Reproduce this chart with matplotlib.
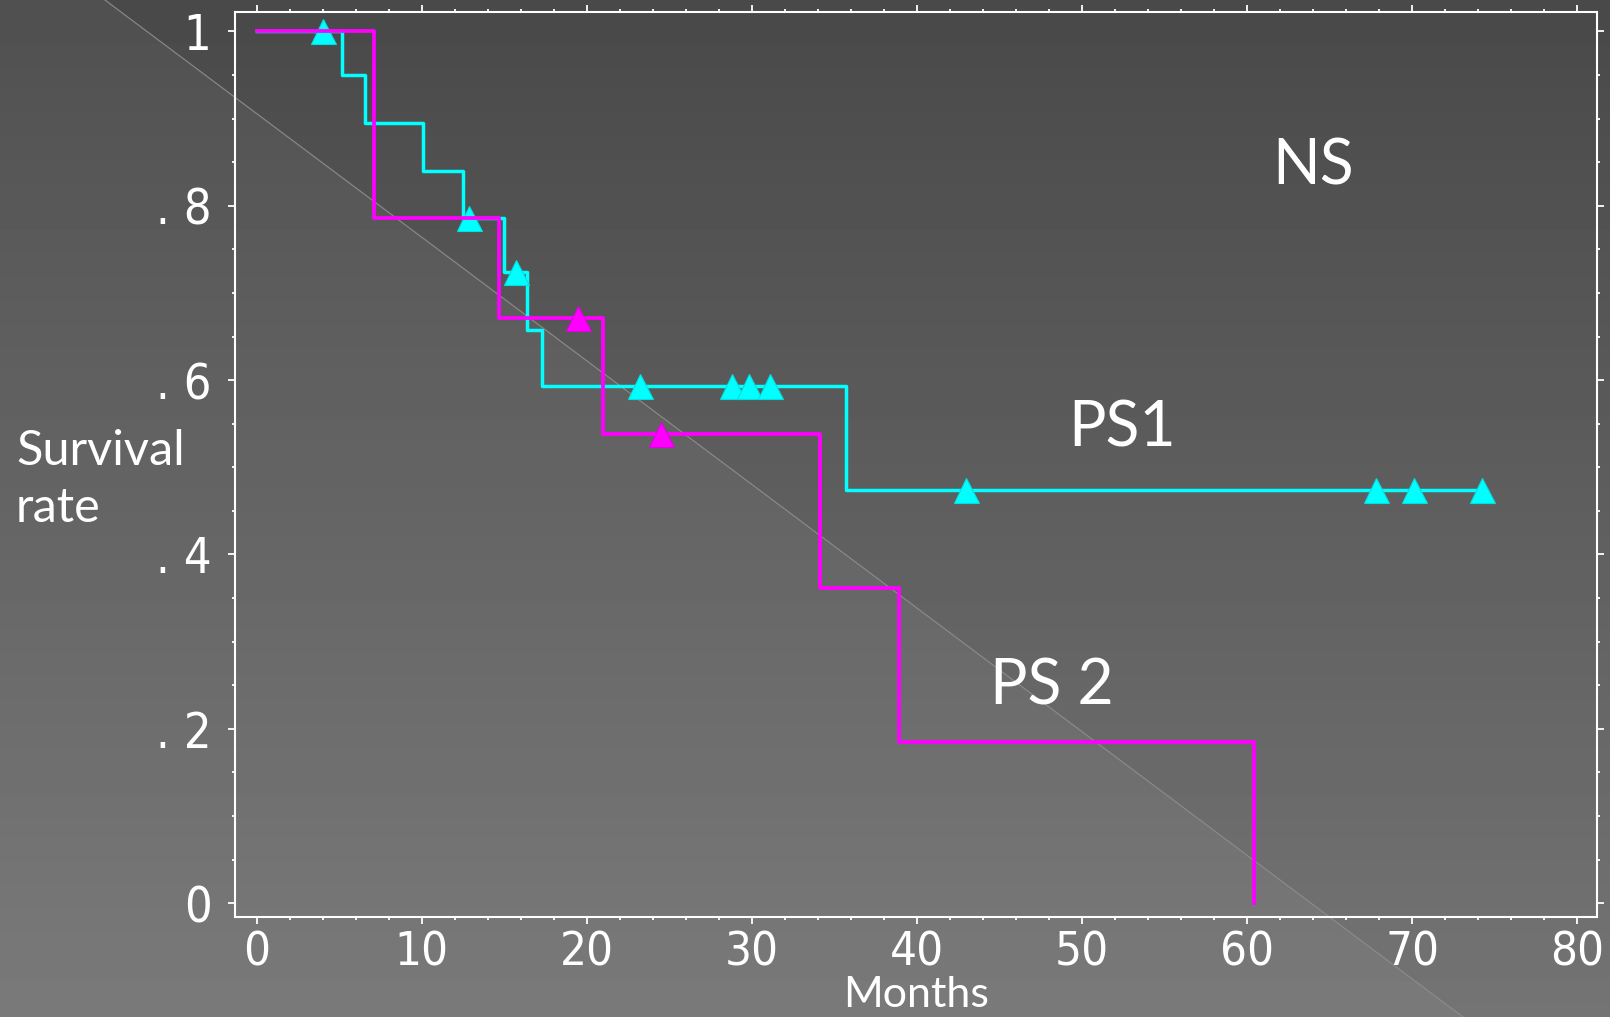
import matplotlib
matplotlib.use('Agg')
import matplotlib.pyplot as plt
from matplotlib.patches import Polygon
from matplotlib.ticker import MultipleLocator
import numpy as np

# Kaplan-Meier estimates (months, survival rate)
ps1_time = [0, 5.15, 6.6, 10.1, 12.5, 15.0, 16.4, 17.3, 35.7, 74.2]
ps1_surv = [1.0, 0.95, 0.895, 0.84, 0.786, 0.724, 0.657, 0.593, 0.474, 0.474]
ps1_cens_time = [4.0, 12.9, 15.7, 23.2, 28.8, 29.8, 31.1, 43.0, 67.8, 70.1, 74.2]
ps1_cens_surv = [1.0, 0.786, 0.724, 0.593, 0.593, 0.593, 0.593, 0.474, 0.474, 0.474, 0.474]

ps2_time = [0, 7.1, 14.7, 21.0, 34.1, 38.9, 60.4]
ps2_surv = [1.0, 0.786, 0.671, 0.538, 0.362, 0.185, 0.0]
ps2_cens_time = [19.5, 24.5]
ps2_cens_surv = [0.671, 0.538]

x_ticks = [0, 10, 20, 30, 40, 50, 60, 70, 80]
y_ticks = [0, 0.2, 0.4, 0.6, 0.8, 1.0]
y_ticklabels = ['0', '. 2', '. 4', '. 6', '. 8', '1']

label_font = ['Lato', 'DejaVu Sans']
tick_font = ['DejaVu Sans']

fig = plt.figure(figsize=(16.1, 10.17), dpi=100)

# slide background: dark-to-light vertical gradient, lighter lower-left triangle
bg = fig.add_axes([0, 0, 1, 1], zorder=-10)
grad = np.linspace(73, 116, 256)[:, None] / 255.0
bg.imshow(np.repeat(grad, 2, axis=1), cmap='gray', vmin=0, vmax=1,
          extent=[0, 1, 0, 1], aspect='auto', origin='upper')
tri = Polygon([[0, 1], [0.0652, 1], [0.9087, 0], [0, 0]], closed=True,
              fc='white', ec='none', alpha=0.045)
bg.add_patch(tri)
bg.plot([0.0652, 0.9087], [1, 0], color='#8c8c8c', lw=0.8)
bg.set_xlim(0, 1)
bg.set_ylim(0, 1)
bg.axis('off')

ax = fig.add_axes([0.146, 0.0983, 0.846, 0.8896])
ax.patch.set_alpha(0)

ax.step(ps1_time, ps1_surv, where='post', color='#00ffff', lw=2.5, zorder=2)
ax.plot(ps1_cens_time, ps1_cens_surv, '^', color='#00ffff', ms=18,
        mec='#00e0e0', mew=0.8, zorder=3)
ax.step(ps2_time, ps2_surv, where='post', color='#ff00ff', lw=2.7, zorder=4)
ax.plot(ps2_cens_time, ps2_cens_surv, '^', color='#ff00ff', ms=18,
        mec='#e000e0', mew=0.8, zorder=5)

ax.text(64.0, 0.824, 'NS', color='white', fontsize=45, ha='center',
        va='baseline', family=label_font)
ax.text(52.4, 0.524, 'PS1', color='white', fontsize=45, ha='center',
        va='baseline', family=label_font)
ax.text(48.15, 0.228, 'PS 2', color='white', fontsize=45, ha='center',
        va='baseline', family=label_font)

ax.set_xlim(-1.3, 81.2)
ax.set_ylim(-0.016, 1.022)
ax.set_xticks(x_ticks)
ax.set_yticks(y_ticks)
ax.set_yticklabels(y_ticklabels)
ax.xaxis.set_minor_locator(MultipleLocator(2))
ax.yaxis.set_minor_locator(MultipleLocator(0.05))
for s in ax.spines.values():
    s.set_color('white')
    s.set_linewidth(1.5)
ax.tick_params(which='both', direction='out', colors='white', width=1.3,
               top=True, right=True, labeltop=False, labelright=False)
ax.tick_params(which='major', length=5, labelsize=35)
ax.tick_params(which='minor', length=2.5)
ax.tick_params(axis='x', labelsize=34, pad=5)
ax.tick_params(axis='y', pad=12)
for lab in ax.get_xticklabels() + ax.get_yticklabels():
    lab.set_family(tick_font)
    lab.set_fontstretch('condensed')

fig.text(0.01, 1 - 465 / 1017, 'Survival', color='white', fontsize=35,
         ha='left', va='baseline', family=label_font)
fig.text(0.01, 1 - 522 / 1017, 'rate', color='white', fontsize=35,
         ha='left', va='baseline', family=label_font)
fig.text(0.569, 1 - 1007 / 1017, 'Months', color='white', fontsize=31,
         ha='center', va='baseline', family=label_font)

fig.savefig('out.png', dpi=100)
